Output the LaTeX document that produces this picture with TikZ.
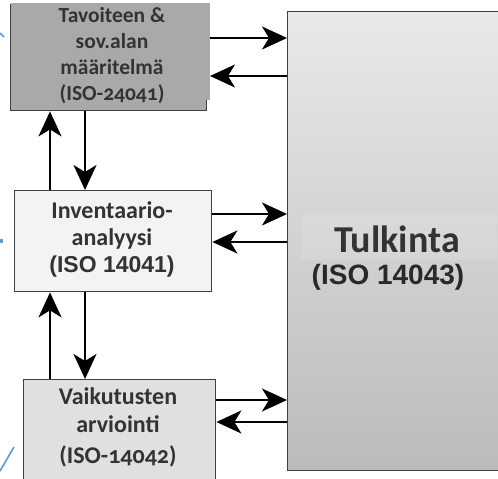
\documentclass[tikz,border=0pt]{standalone}
\usepackage{fontspec}
\setmainfont{Carlito}
\newfontfamily\boxfont[Numbers=OldStyle]{Carlito}
\newfontfamily\isofont{Liberation Sans}
\usetikzlibrary{arrows.meta}
\definecolor{ink}{HTML}{333333}
\definecolor{frame}{HTML}{404040}
\definecolor{darkfill}{HTML}{A9A9A9}
\definecolor{midfill}{HTML}{F3F3F3}
\definecolor{lowfill}{HTML}{E0E0E0}
\definecolor{shadetop}{HTML}{E9E9E9}
\definecolor{shadebot}{HTML}{BBBBBB}
\definecolor{marker}{HTML}{5B9BD5}
\tikzset{
  stage/.style={draw=frame, line width=1.4pt, rectangle, inner sep=0pt},
  label/.style={text=ink, align=center, inner sep=0pt, font=\boxfont\bfseries},
  flow/.style={line width=2pt, -{Stealth[length=25pt,width=23pt,inset=7pt]}},
  tick/.style={draw=marker, line width=1.6pt}
}
\begin{document}
\begin{tikzpicture}[x=1pt,y=-1pt]
\useasboundingbox (0,0) rectangle (498,479);
\clip (0,0) rectangle (498,479);
\fill[white] (0,0) rectangle (498,479);

% interpretation block (right, runs off the edge)
\node[stage, minimum width=220pt, minimum height=459pt, top color=shadetop, bottom color=shadebot, anchor=north west] (interp) at (287,11) {};
\fill[white, opacity=0.12] (301,215) rectangle (497,260);
\node[text=ink, inner sep=0pt, font=\fontsize{38}{42}\selectfont\bfseries] (interpA) at (397,239) {Tulkinta};
\node[text=ink!80!black, inner sep=0pt, font=\isofont\bfseries\fontsize{28}{32}\selectfont] (interpB) at (388,277) {(ISO 14043)};

% goal and scope block
\node[stage, fill=darkfill, minimum width=196pt, minimum height=106pt, anchor=north west] (goal) at (10,4) {};
\fill[darkfill] (11,3) rectangle (210,100);
\node[label, font=\boxfont\bfseries\fontsize{21.5}{26}\selectfont] (goaltext) at (112,56) {Tavoiteen \&\\sov.alan\\määritelmä\\(ISO-24041)};

% inventory block
\node[stage, fill=midfill, minimum width=197pt, minimum height=101pt, anchor=north west] (inv) at (14,190) {};
\node[label, font=\boxfont\bfseries\fontsize{24}{27}\selectfont] (invtext) at (112,239) {Inventaario-\\analyysi\\{\isofont\bfseries\fontsize{23}{27}\selectfont (ISO 14041)}};

% impact assessment block (runs off the bottom)
\node[stage, fill=lowfill, minimum width=192pt, minimum height=110pt, anchor=north west] (imp) at (23,379) {};
\node[label, font=\boxfont\bfseries\fontsize{24}{28}\selectfont] (imptext) at (118,427) {Vaikutusten\\arviointi\\[3pt](ISO-14042)};

% links to the interpretation block
\draw[flow] (210,38) -- (interp.west |- 0,38);
\draw[flow] (interp.west |- 0,76) -- (210,76);
\draw[flow] (inv.east |- 0,214) -- (interp.west |- 0,214);
\draw[flow] (interp.west |- 0,242) -- (inv.east |- 0,242);
\draw[flow] (imp.east |- 0,400) -- (interp.west |- 0,400);
\draw[flow] (interp.west |- 0,422) -- (imp.east |- 0,422);

% iteration between the stages
\draw[flow] (inv.north -| 50,0) -- (goal.south -| 50,0);
\draw[flow] (goal.south -| 85,0) -- (inv.north -| 85,0);
\draw[flow] (imp.north -| 50,0) -- (inv.south -| 50,0);
\draw[flow] (inv.south -| 85,0) -- (imp.north -| 85,0);

% stray connector ends at the left margin
\draw[tick] (0,33) -- (4,37);
\fill[marker] (0,239) rectangle (3,243);
\draw[tick] (0,471) -- (14,447);
\end{tikzpicture}
\end{document}
